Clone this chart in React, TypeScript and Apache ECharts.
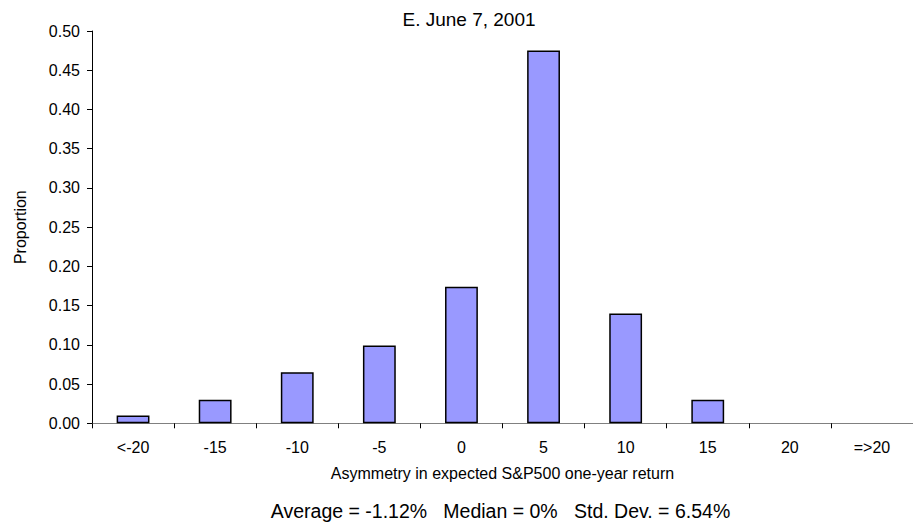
import React, { useEffect, useRef } from "react";
import * as echarts from "echarts";

const categories = ["<-20", "-15", "-10", "-5", "0", "5", "10", "15", "20", "=>20"];
const proportions = [0.01, 0.03, 0.065, 0.099, 0.174, 0.475, 0.14, 0.03, 0, 0];
const titleText = "E. June 7, 2001";
const xName = "Asymmetry in expected S&P500 one-year return";
const yName = "Proportion";
const statsText = "Average = -1.12%   Median = 0%   Std. Dev. = 6.54%";

const FONT = "'Liberation Sans', Arial, sans-serif";

export default function App() {
  const ref = useRef<HTMLDivElement>(null);
  useEffect(() => {
    if (!ref.current) return;
    const chart = echarts.init(ref.current, undefined, { renderer: "svg" });
    chart.setOption({
      animation: false,
      backgroundColor: "#ffffff",
      textStyle: { fontFamily: FONT },
      grid: { left: 92, right: -6, top: 31, bottom: 103.7, containLabel: false },
      graphic: [
        {
          type: "text",
          x: 469,
          y: 19.5,
          style: {
            text: titleText,
            fontFamily: FONT,
            fontSize: 19,
            fill: "#000",
            align: "center",
            verticalAlign: "middle",
          },
        },
        {
          type: "text",
          x: 500.5,
          y: 510.5,
          style: {
            text: statsText,
            fontFamily: FONT,
            fontSize: 19.5,
            fill: "#000",
            align: "center",
            verticalAlign: "middle",
          },
        },
      ],
      xAxis: {
        type: "category",
        data: categories,
        name: xName,
        nameLocation: "middle",
        nameGap: 42.5,
        nameTextStyle: { fontFamily: FONT, fontSize: 16, color: "#000" },
        axisLine: { show: true, lineStyle: { color: "#808080", width: 1 } },
        axisTick: { show: true, length: 5, alignWithLabel: false, lineStyle: { color: "#000" } },
        axisLabel: { fontFamily: FONT, fontSize: 16, color: "#000", margin: 16.5, interval: 0 },
        splitLine: { show: false },
      },
      yAxis: {
        type: "value",
        min: 0,
        max: 0.5,
        interval: 0.05,
        name: yName,
        nameLocation: "middle",
        nameGap: 64,
        nameRotate: 90,
        nameTextStyle: { fontFamily: FONT, fontSize: 16, color: "#000" },
        axisLine: { show: true, lineStyle: { color: "#000", width: 1 } },
        axisTick: { show: true, length: 5, lineStyle: { color: "#000" } },
        axisLabel: {
          fontFamily: FONT,
          fontSize: 16,
          color: "#000",
          margin: 12,
          formatter: (v: number) => v.toFixed(2),
        },
        splitLine: { show: false },
      },
      series: [
        {
          type: "bar",
          barWidth: "40%",
          data: proportions.map((v) => ({
            value: v,
            itemStyle: v === 0 ? { borderWidth: 0, opacity: 0 } : undefined,
          })),
          itemStyle: { color: "#9999FF", borderColor: "#000", borderWidth: 1.5 },
        },
      ],
    });
    return () => chart.dispose();
  }, []);
  return (
    <div
      ref={ref}
      style={{ position: "fixed", left: 0, top: 0, width: 913, height: 527, overflow: "hidden" }}
    />
  );
}
